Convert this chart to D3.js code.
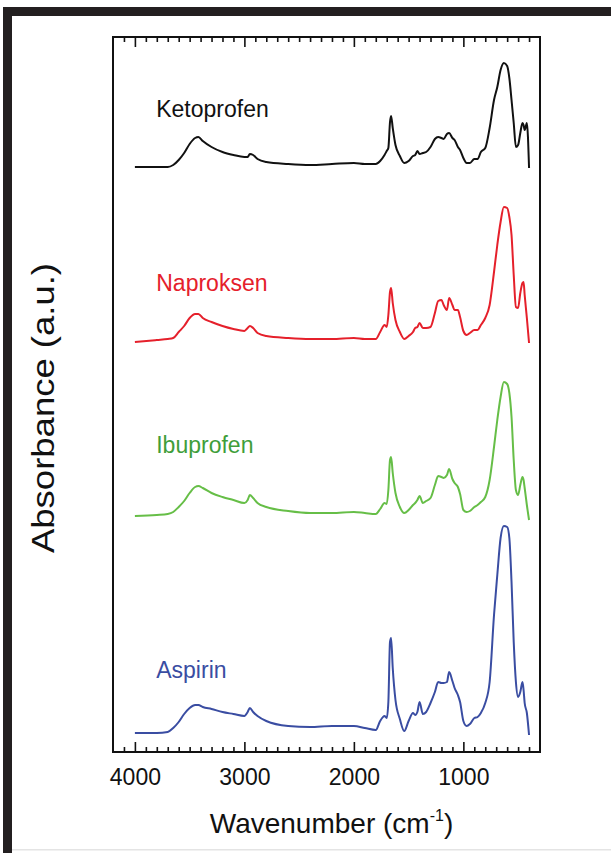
<!DOCTYPE html>
<html>
<head>
<meta charset="utf-8">
<script src="https://cdn.jsdelivr.net/npm/d3@7"></script>
<style>
  html, body { margin: 0; padding: 0; background: #fff; }
  svg { display: block; }
  text { font-family: Arial, "Liberation Sans", sans-serif; }
</style>
</head>
<body>
<svg id="chart" width="611" height="853"></svg>
<script>
// ---- data ----
const wavenumbers = [4000,3800,3700,3650,3600,3550,3500,3450,3420,3380,
  3300,3200,3100,3000,2970,2950,2920,2880,2800,2600,
  2400,2200,2000,1900,1800,1760,1720,1700,1685,1670,
  1660,1645,1620,1580,1540,1500,1460,1440,1420,1400,
  1370,1340,1300,1260,1230,1200,1180,1150,1130,1100,
  1080,1050,1030,1000,970,940,900,870,840,800,
  760,720,690,660,630,600,580,560,540,520,
  500,480,460,450,440,420,400];

const ketoprofen = [5.85,5.85,5.85,5.87,5.92,5.99,6.08,6.14,6.15,6.11,
  6.05,6.00,5.97,5.95,5.95,5.98,5.97,5.93,5.90,5.88,
  5.87,5.88,5.89,5.88,5.88,5.91,5.97,6.01,6.04,6.30,
  6.36,6.24,6.07,5.96,5.89,5.91,5.96,5.97,6.01,5.98,
  5.99,6.00,6.05,6.13,6.15,6.14,6.13,6.18,6.19,6.14,
  6.12,6.05,6.02,5.94,5.89,5.89,5.93,5.93,6.00,6.04,
  6.24,6.52,6.65,6.82,6.89,6.86,6.74,6.52,6.29,6.05,
  6.07,6.19,6.29,6.27,6.22,6.29,5.84];

const naproksen = [4.10,4.12,4.13,4.14,4.20,4.26,4.34,4.38,4.38,4.34,
  4.30,4.26,4.23,4.21,4.24,4.26,4.24,4.19,4.16,4.14,
  4.13,4.13,4.14,4.13,4.13,4.20,4.27,4.25,4.37,4.60,
  4.64,4.49,4.32,4.20,4.13,4.16,4.20,4.24,4.25,4.29,
  4.24,4.24,4.25,4.39,4.51,4.52,4.47,4.42,4.54,4.47,
  4.42,4.42,4.35,4.21,4.17,4.19,4.22,4.22,4.27,4.34,
  4.47,4.80,5.07,5.30,5.45,5.44,5.35,5.17,4.77,4.45,
  4.44,4.59,4.69,4.70,4.57,4.34,4.09];

const ibuprofen = [2.36,2.37,2.38,2.40,2.45,2.51,2.59,2.65,2.66,2.64,
  2.59,2.55,2.52,2.49,2.52,2.57,2.54,2.49,2.45,2.41,
  2.39,2.39,2.40,2.39,2.38,2.43,2.49,2.48,2.62,2.92,
  2.95,2.79,2.59,2.45,2.39,2.42,2.47,2.49,2.52,2.56,
  2.49,2.51,2.54,2.67,2.76,2.75,2.74,2.77,2.83,2.73,
  2.69,2.65,2.58,2.42,2.40,2.41,2.45,2.47,2.50,2.55,
  2.72,3.05,3.32,3.55,3.70,3.68,3.59,3.35,2.92,2.62,
  2.57,2.67,2.75,2.72,2.64,2.47,2.32];

const aspirin = [0.19,0.19,0.20,0.24,0.30,0.38,0.44,0.47,0.47,0.45,
  0.43,0.40,0.38,0.36,0.40,0.44,0.40,0.36,0.31,0.26,
  0.25,0.26,0.26,0.24,0.22,0.31,0.36,0.34,0.50,1.10,
  1.14,0.84,0.52,0.33,0.21,0.31,0.39,0.37,0.40,0.50,
  0.38,0.40,0.49,0.60,0.70,0.69,0.69,0.70,0.80,0.71,
  0.64,0.57,0.50,0.31,0.26,0.28,0.34,0.35,0.39,0.49,
  0.70,1.37,1.77,2.14,2.26,2.25,2.14,1.70,1.10,0.70,
  0.55,0.60,0.70,0.62,0.49,0.39,0.17];

const seriesNames = ["Ketoprofen", "Naproksen", "Ibuprofen", "Aspirin"];
const seriesValues = [ketoprofen, naproksen, ibuprofen, aspirin];
const labelPositions = [6.35, 4.61, 2.99, 0.74];   // label baseline, a.u.
const labelWavenumber = 3805;
const majorTicks = [4000, 3000, 2000, 1000];
const tickLabels = ["4000", "3000", "2000", "1000"];
const xDomain = [4200, 300];
const yDomain = [0, 7.15];

// ---- styles ----
const lineColors = ["#111111", "#e5202b", "#66be47", "#3a4da2"];
const textColors = ["#111111", "#e5202b", "#3f9e3a", "#3a4da2"];

const svg = d3.select("#chart");
const L = 113, R = 540, T = 37, B = 752;

// outer black border bands
svg.append("rect").attr("x", 3).attr("y", 7).attr("width", 608).attr("height", 9).attr("fill", "#231f20");
svg.append("rect").attr("x", 3).attr("y", 7).attr("width", 9).attr("height", 846).attr("fill", "#231f20");
svg.append("rect").attr("x", 12).attr("y", 849).attr("width", 599).attr("height", 1.5).attr("fill", "#e4e4e4");

const x = d3.scaleLinear().domain(xDomain).range([L, R]);
const y = d3.scaleLinear().domain(yDomain).range([B, T]);

const minorTicks = d3.range(300, 4201, 100).filter(v => majorTicks.indexOf(v) < 0 && v > 300 && v < 4200);

// bottom axis: major with labels
const gB = svg.append("g").attr("transform", `translate(0,${B})`)
  .call(d3.axisBottom(x).tickValues(majorTicks).tickSize(-10).tickPadding(17)
    .tickFormat((d, i) => tickLabels[i]));
gB.select(".domain").remove();
gB.selectAll("text").attr("font-size", 23).attr("fill", "#111").attr("font-family", "Arial, 'Liberation Sans', sans-serif");
gB.selectAll("line").attr("stroke", "#111").attr("stroke-width", 1.6);

const gBm = svg.append("g").attr("transform", `translate(0,${B})`)
  .call(d3.axisBottom(x).tickValues(minorTicks).tickSize(-5).tickFormat(""));
gBm.select(".domain").remove();
gBm.selectAll("line").attr("stroke", "#111").attr("stroke-width", 1.6);

// top axis
const gT = svg.append("g").attr("transform", `translate(0,${T})`)
  .call(d3.axisTop(x).tickValues(majorTicks).tickSize(-10).tickFormat(""));
gT.select(".domain").remove();
gT.selectAll("line").attr("stroke", "#111").attr("stroke-width", 1.6);
const gTm = svg.append("g").attr("transform", `translate(0,${T})`)
  .call(d3.axisTop(x).tickValues(minorTicks).tickSize(-5).tickFormat(""));
gTm.select(".domain").remove();
gTm.selectAll("line").attr("stroke", "#111").attr("stroke-width", 1.6);

// frame
svg.append("rect").attr("x", L).attr("y", T).attr("width", R - L).attr("height", B - T)
  .attr("fill", "none").attr("stroke", "#111").attr("stroke-width", 2);

// spectra
const line = d3.line().x((d, i) => x(wavenumbers[i])).y(d => y(d)).curve(d3.curveMonotoneX);
seriesValues.forEach((vals, k) => {
  svg.append("path").datum(vals).attr("d", line)
    .attr("fill", "none").attr("stroke", lineColors[k]).attr("stroke-width", 2)
    .attr("stroke-linejoin", "round");
  svg.append("text").attr("x", x(labelWavenumber)).attr("y", y(labelPositions[k]))
    .attr("font-size", 23).attr("fill", textColors[k]).text(seriesNames[k]);
});

// axis titles
const xt = svg.append("text").attr("x", (L + R) / 2 + 5).attr("y", 833)
  .attr("text-anchor", "middle").attr("font-size", 28).attr("fill", "#111");
xt.append("tspan").text("Wavenumber (cm");
xt.append("tspan").attr("font-size", 16).attr("dy", -12).text("-1");
xt.append("tspan").attr("dy", 12).text(")");

svg.append("text").attr("transform", "translate(54,408) rotate(-90)")
  .attr("text-anchor", "middle").attr("font-size", 32).attr("fill", "#111")
  .attr("textLength", 290).attr("lengthAdjust", "spacingAndGlyphs")
  .text("Absorbance (a.u.)");
</script>
</body>
</html>
